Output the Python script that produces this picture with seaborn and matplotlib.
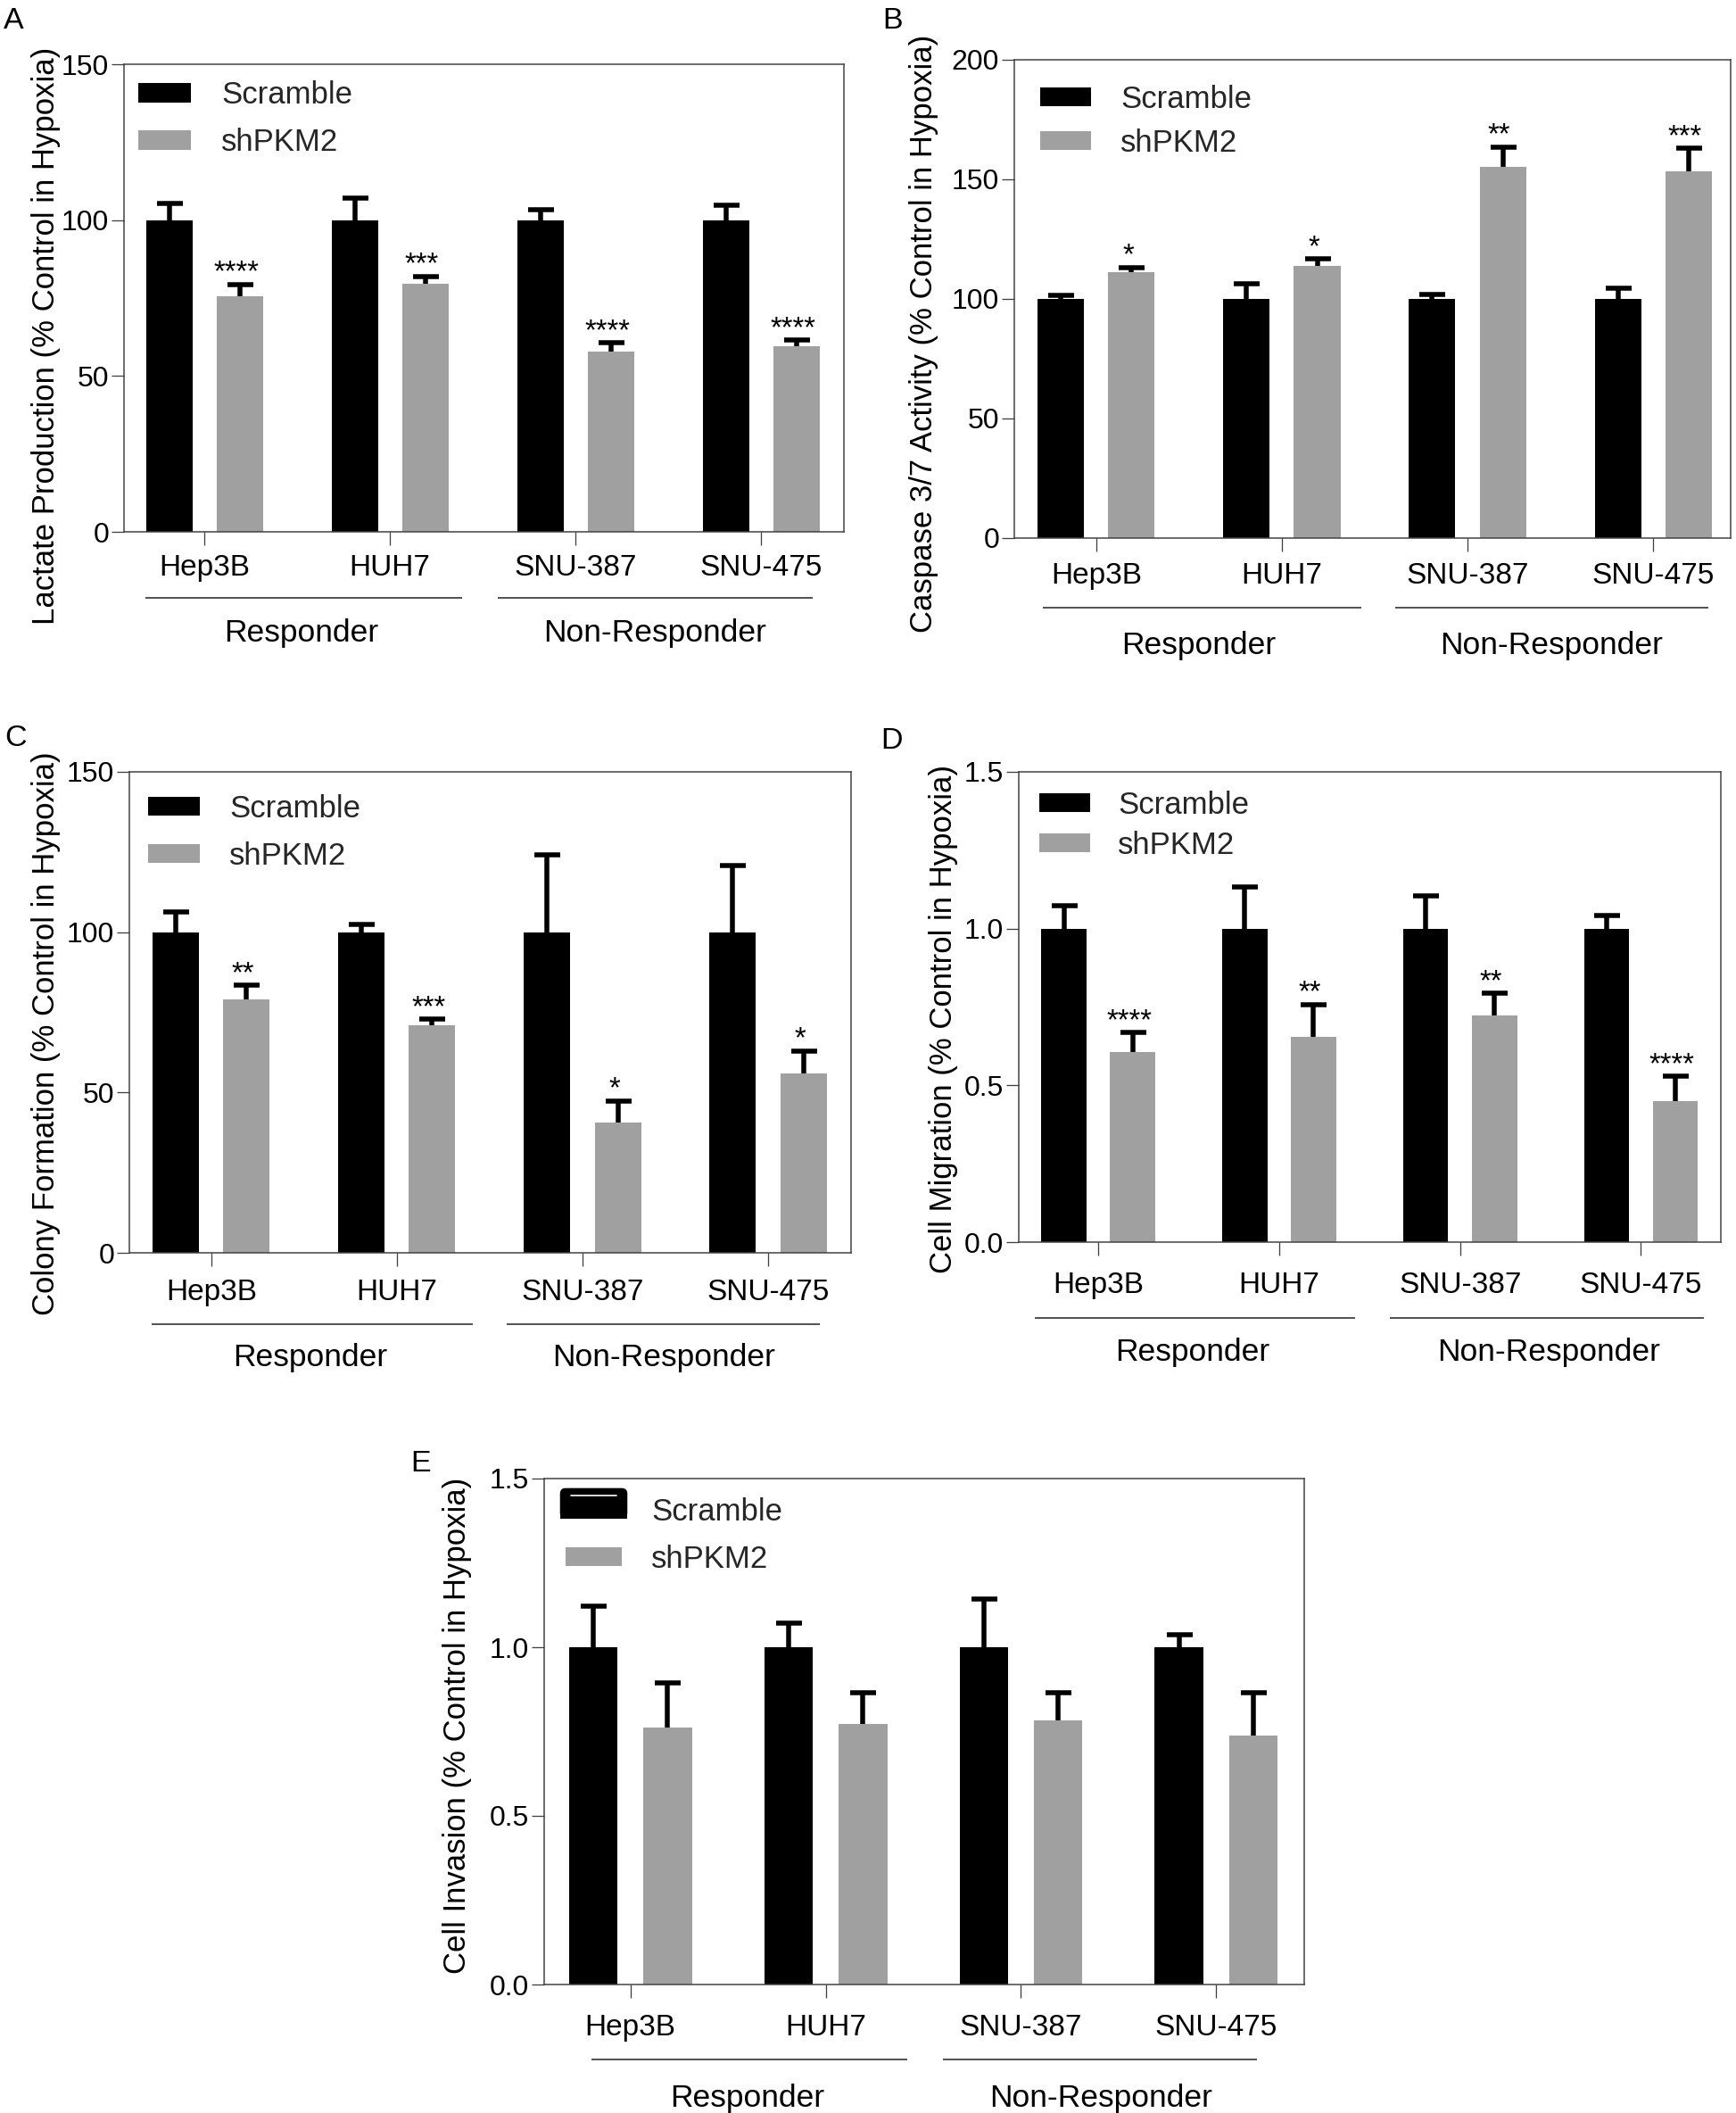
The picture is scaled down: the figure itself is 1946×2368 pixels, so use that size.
import numpy as np
import pandas as pd
import matplotlib
matplotlib.use("Agg")
import matplotlib.pyplot as plt
import matplotlib.transforms as mtransforms
from matplotlib.patches import Patch, Rectangle, FancyBboxPatch
from matplotlib.lines import Line2D
from matplotlib.legend_handler import HandlerBase
import seaborn as sns

# ---------------- data ----------------
cell_lines = ["Hep3B", "HUH7", "SNU-387", "SNU-475"]
groups = ["Scramble", "shPKM2"]
responder_labels = ["Responder", "Non-Responder"]

lactate_scr = [100, 100, 100, 100]
lactate_scr_err = [5.3, 7.1, 3.4, 4.8]
lactate_sh = [75.5, 79.5, 57.8, 59.5]
lactate_sh_err = [3.9, 2.5, 2.8, 2.0]
lactate_stars = ["****", "***", "****", "****"]

caspase_scr = [100, 100, 100, 100]
caspase_scr_err = [1.4, 6.3, 1.8, 4.5]
caspase_sh = [111.2, 113.7, 155.1, 153.2]
caspase_sh_err = [2.0, 3.1, 8.5, 9.7]
caspase_stars = ["*", "*", "**", "***"]

colony_scr = [100, 100, 100, 100]
colony_scr_err = [6.2, 2.4, 24.0, 20.9]
colony_sh = [79.0, 71.0, 40.5, 55.8]
colony_sh_err = [4.5, 1.8, 6.9, 7.2]
colony_stars = ["**", "***", "*", "*"]

migration_scr = [1.0, 1.0, 1.0, 1.0]
migration_scr_err = [0.072, 0.133, 0.105, 0.043]
migration_sh = [0.607, 0.654, 0.722, 0.451]
migration_sh_err = [0.061, 0.104, 0.071, 0.077]
migration_stars = ["****", "**", "**", "****"]

invasion_scr = [1.0, 1.0, 1.0, 1.0]
invasion_scr_err = [0.121, 0.071, 0.144, 0.038]
invasion_sh = [0.763, 0.772, 0.782, 0.737]
invasion_sh_err = [0.132, 0.092, 0.084, 0.127]
invasion_stars = ["", "", "", ""]

ticks_150 = [0, 50, 100, 150]
ticks_200 = [0, 50, 100, 150, 200]
ticks_15 = [0.0, 0.5, 1.0, 1.5]

# ---------------- style ----------------
W, H, DPI = 1946, 2368, 100
BLACK = "#000000"
GRAY = "#a0a0a0"
SPINE = "#404040"
FS_XTICK = 24
FS_YTICK = 23
FS_LEG = 25
FS_GROUP = 25.5
FS_YLAB = 25
FS_STAR = 23.5

sns.set_theme(style="ticks")
plt.rcParams["font.family"] = ["Liberation Sans", "DejaVu Sans"]
plt.rcParams["axes.unicode_minus"] = False


def pt(px):
    return px * 72.0 / DPI


class RoundedTopHandler(HandlerBase):
    def create_artists(self, legend, orig_handle, xdescent, ydescent,
                       width, height, fontsize, trans):
        x0, y0 = -xdescent, -ydescent
        hb = height * 1.63
        r = height * 0.3
        top = FancyBboxPatch((x0, y0 + r), width, hb - 2 * r,
                             boxstyle=f"round,pad={r}", mutation_aspect=1,
                             fc=BLACK, ec="none", transform=trans)
        bottom = Rectangle((x0 - r, y0), width + 2 * r, hb * 0.5,
                           fc=BLACK, ec="none", transform=trans)
        line = Line2D([x0 + width * 0.1, x0 + width * 0.9],
                      [y0 + height * 1.21] * 2, color="white",
                      lw=1.2, transform=trans)
        return [top, bottom, line]


fig = plt.figure(figsize=(W / DPI, H / DPI), dpi=DPI)

panels = [
    dict(letter="A", lx=15, ly=32, box=(139, 72, 946, 596), xlim=(-0.433, 3.447),
         scr=lactate_scr, scr_err=lactate_scr_err, sh=lactate_sh, sh_err=lactate_sh_err,
         stars=lactate_stars, ylim=(0, 150), yticks=ticks_150, yfmt="{:.0f}",
         ylabel="Lactate Production (% Control in Hypoxia)", ylab=(-0.108, 0.42),
         cat=39, gline=74, glab=113, grp=((-0.32, 1.39), (1.58, 3.28)), glx=(0.52, 2.43),
         leg=(155, 100, 59, 20, 34, 60)),
    dict(letter="B", lx=1000, ly=32, box=(1137, 67, 1940, 603), xlim=(-0.442, 3.418),
         scr=caspase_scr, scr_err=caspase_scr_err, sh=caspase_sh, sh_err=caspase_sh_err,
         stars=caspase_stars, ylim=(0, 200), yticks=ticks_200, yfmt="{:.0f}",
         ylabel="Caspase 3/7 Activity (% Control in Hypoxia)", ylab=(-0.126, 0.428),
         cat=41, gline=78, glab=121, grp=((-0.29, 1.43), (1.61, 3.30)), glx=(0.55, 2.45),
         leg=(1166, 105, 57, 19, 33, 56)),
    dict(letter="C", lx=18, ly=836, box=(145, 865, 954, 1404), xlim=(-0.442, 3.447),
         scr=colony_scr, scr_err=colony_scr_err, sh=colony_sh, sh_err=colony_sh_err,
         stars=colony_stars, ylim=(0, 150), yticks=ticks_150, yfmt="{:.0f}",
         ylabel="Colony Formation (% Control in Hypoxia)", ylab=(-0.115, 0.456),
         cat=43, gline=80, glab=118, grp=((-0.32, 1.41), (1.59, 3.28)), glx=(0.53, 2.44),
         leg=(166, 900, 58, 19.5, 33, 60)),
    dict(letter="D", lx=1000, ly=839, box=(1142, 865, 1929, 1392), xlim=(-0.44, 3.442),
         scr=migration_scr, scr_err=migration_scr_err, sh=migration_sh, sh_err=migration_sh_err,
         stars=migration_stars, ylim=(0, 1.5), yticks=ticks_15, yfmt="{:.1f}",
         ylabel="Cell Migration (% Control in Hypoxia)", ylab=(-0.108, 0.474),
         cat=47, gline=85, glab=123, grp=((-0.35, 1.42), (1.61, 3.35)), glx=(0.52, 2.49),
         leg=(1165, 896, 57, 19.5, 31, 52)),
    dict(letter="E", lx=472, ly=1649, box=(610, 1657, 1462, 2224), xlim=(-0.441, 3.45),
         scr=invasion_scr, scr_err=invasion_scr_err, sh=invasion_sh, sh_err=invasion_sh_err,
         stars=invasion_stars, ylim=(0, 1.5), yticks=ticks_15, yfmt="{:.1f}",
         ylabel="Cell Invasion (% Control in Hypoxia)", ylab=(-0.115, 0.511),
         cat=47, gline=84, glab=128, grp=((-0.20, 1.42), (1.60, 3.21)), glx=(0.60, 2.41),
         leg=(634, 1688, 63, 19, 33, 60), rounded=True),
]

BAR_WIDTH = 0.76
BAR_GAP = 0.342
off = BAR_WIDTH / 4.0

for p in panels:
    x0, y0, x1, y1 = p["box"]
    wpx, hpx = x1 - x0, y1 - y0
    ax = fig.add_axes([x0 / W, 1 - y1 / H, wpx / W, hpx / H])

    df = pd.DataFrame({
        "Cell line": cell_lines * 2,
        "Group": [groups[0]] * 4 + [groups[1]] * 4,
        "Value": list(p["scr"]) + list(p["sh"]),
    })
    sns.barplot(data=df, x="Cell line", y="Value", hue="Group",
                order=cell_lines, hue_order=groups, palette=[BLACK, GRAY],
                width=BAR_WIDTH, gap=BAR_GAP, errorbar=None, saturation=1,
                linewidth=0, legend=False, ax=ax, zorder=2)

    xs = np.arange(len(cell_lines))
    for vals, errs, dx in ((p["scr"], p["scr_err"], -off), (p["sh"], p["sh_err"], off)):
        vals = np.asarray(vals, dtype=float)
        cont = ax.errorbar(xs + dx, vals, yerr=[np.zeros(len(vals)), errs], fmt="none",
                           ecolor=BLACK, elinewidth=pt(5.5), capsize=pt(14.5),
                           capthick=pt(5.5), zorder=3)
        # keep only the upper caps (one-sided error bars)
        for cl in cont.lines[1]:
            if np.allclose(np.asarray(cl.get_ydata(), dtype=float), vals):
                cl.set_visible(False)

    tops = np.array(p["sh"]) + np.array(p["sh_err"])
    for i, s in enumerate(p["stars"]):
        if s:
            ax.annotate(s, xy=(xs[i] + off, tops[i]), xytext=(-4, 4),
                        textcoords="offset pixels", ha="center", va="baseline",
                        fontsize=FS_STAR, color=BLACK)

    ax.set_xlim(*p["xlim"])
    ax.set_ylim(*p["ylim"])
    ax.set_yticks(p["yticks"])
    ax.set_yticklabels([p["yfmt"].format(v) for v in p["yticks"]])
    ax.set_xlabel("")
    ax.set_ylabel(p["ylabel"], fontsize=FS_YLAB, color=BLACK)
    ax.yaxis.label.set_va("center")
    ax.yaxis.set_label_coords(*p["ylab"])

    for sp in ax.spines.values():
        sp.set_visible(True)
        sp.set_color(SPINE)
        sp.set_linewidth(pt(1.5))
    ax.tick_params(axis="y", left=True, direction="out", length=pt(14), width=pt(1.3),
                   color=SPINE, labelsize=FS_YTICK, pad=pt(3), labelcolor=BLACK)
    cat_pad = p["cat"] - 2 - 12.3 - 15
    ax.tick_params(axis="x", bottom=True, direction="out", length=pt(15), width=pt(1.3),
                   color=SPINE, labelsize=FS_XTICK, pad=pt(cat_pad), labelcolor=BLACK)

    tr = mtransforms.blended_transform_factory(ax.transData, ax.transAxes)
    for (a, b), gx, glab in zip(p["grp"], p["glx"], responder_labels):
        ax.plot([a, b], [-p["gline"] / hpx] * 2, transform=tr, color="#555555",
                lw=pt(2), clip_on=False, solid_capstyle="butt")
        ax.text(gx, -p["glab"] / hpx, glab, transform=tr, ha="center", va="center",
                fontsize=FS_GROUP, color=BLACK)

    lx, ly, lw_, lh_, ltp, lsp = p["leg"]
    fs_px = FS_LEG * DPI / 72.0
    handles = [Patch(fc=BLACK, ec="none"), Patch(fc=GRAY, ec="none")]
    hmap = {}
    if p.get("rounded"):
        hmap = {handles[0]: RoundedTopHandler()}
    row_h = 1.15 * fs_px
    ax.legend(handles, groups, loc="upper left",
              bbox_to_anchor=((lx - x0) / wpx, (y1 - (ly - (row_h - lh_) / 2)) / hpx),
              frameon=False, borderpad=0, borderaxespad=0,
              handlelength=lw_ / fs_px, handleheight=lh_ / fs_px,
              handletextpad=ltp / fs_px, labelspacing=(lsp - row_h) / fs_px,
              fontsize=FS_LEG, handler_map=hmap)

    fig.text(p["lx"] / W, 1 - p["ly"] / H, p["letter"], ha="center", va="baseline",
             fontsize=24.5, color=BLACK)

fig.savefig("out.png", dpi=DPI, facecolor="white")
